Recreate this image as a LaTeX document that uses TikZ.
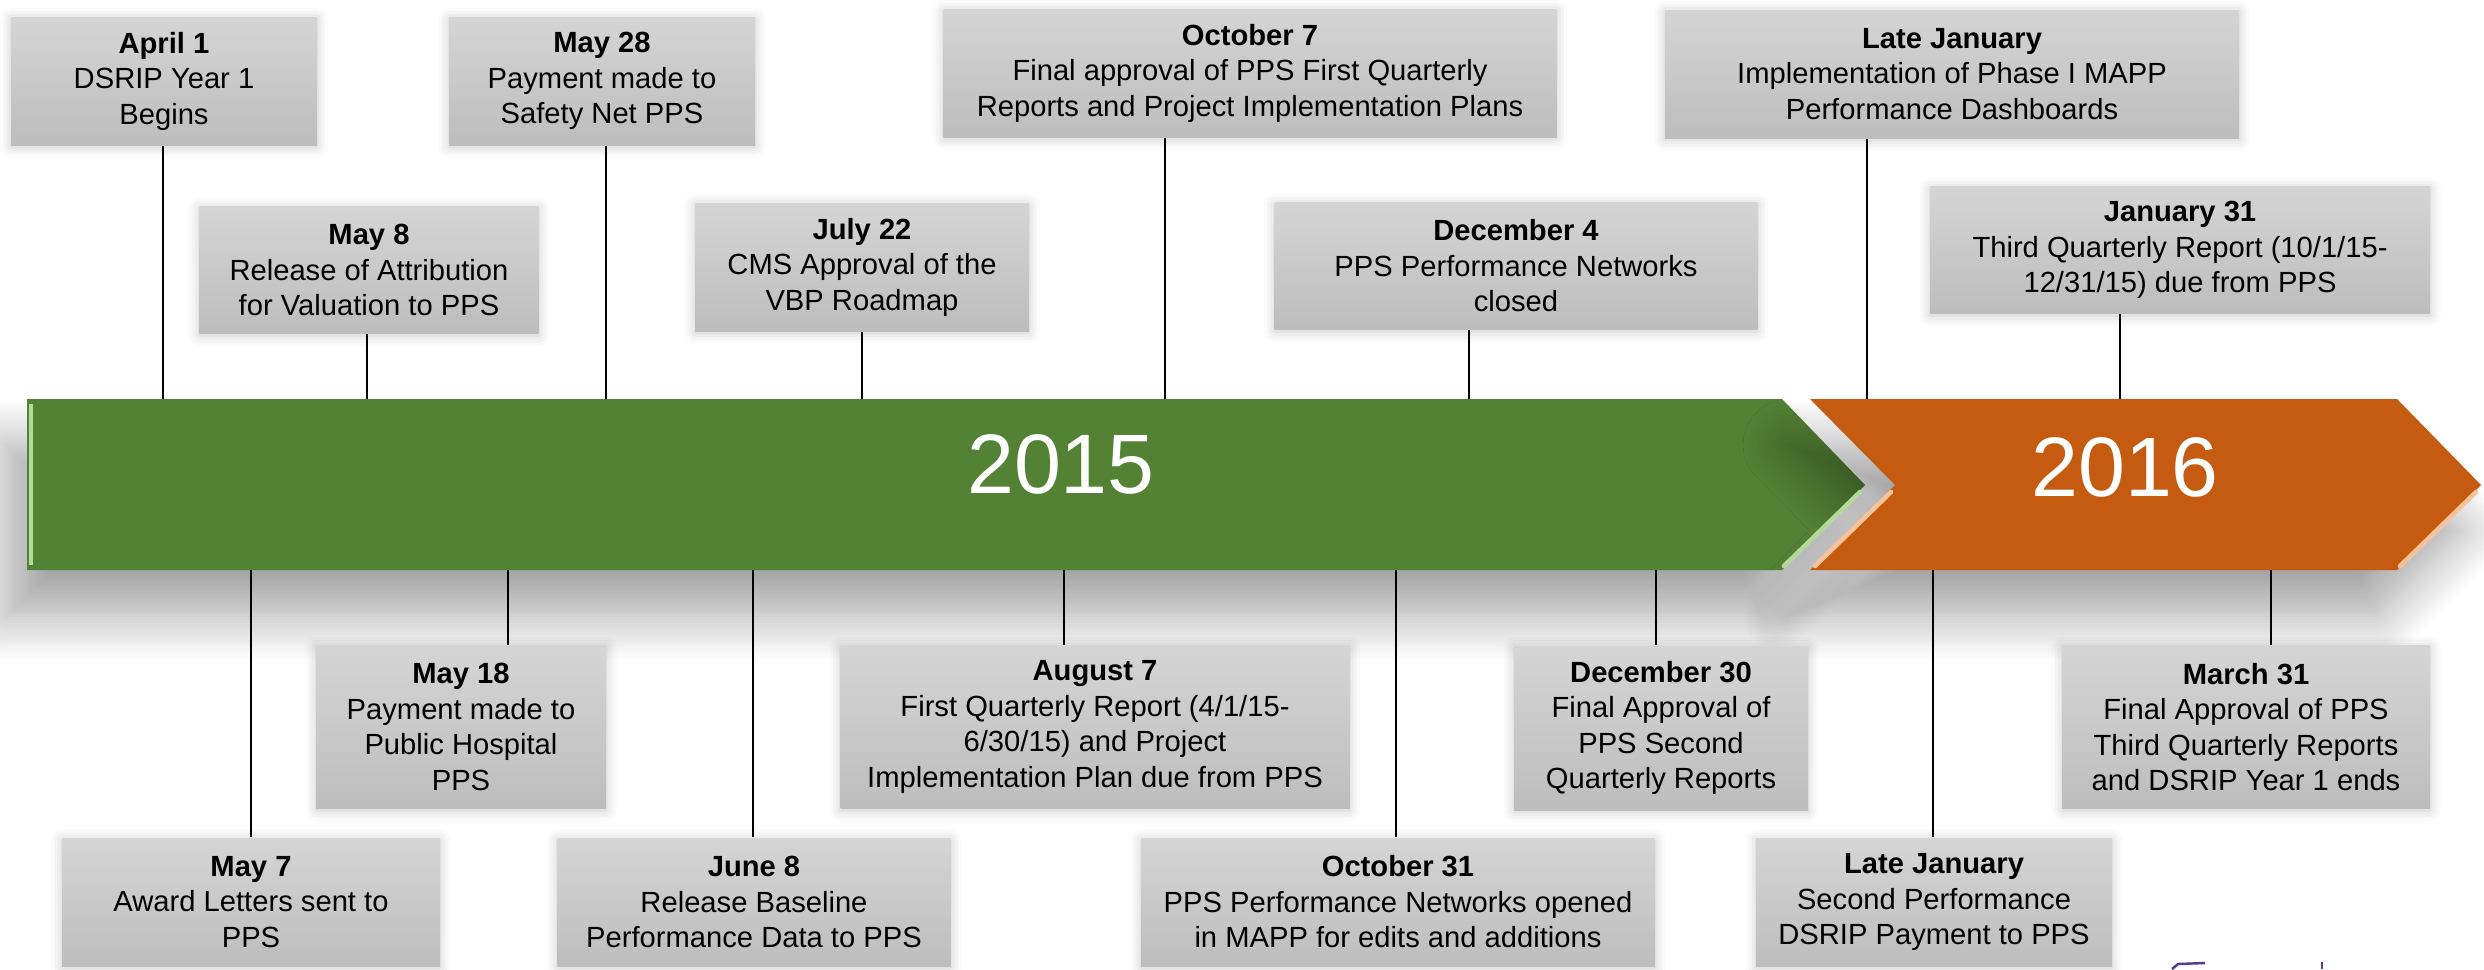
\documentclass[tikz,border=0pt]{standalone}
\usepackage{fontspec}
\setmainfont{Liberation Sans}
\usetikzlibrary{shadows.blur}
\definecolor{grn}{HTML}{548235}
\definecolor{grnhi}{HTML}{B5D99C}
\definecolor{org}{HTML}{C55A11}
\definecolor{orghi}{HTML}{F8C39B}
\definecolor{boxtop}{HTML}{D5D5D5}
\definecolor{boxbot}{HTML}{BDBDBD}
\definecolor{logopurple}{HTML}{5B3A8E}
\tikzset{
  evbox/.style={rectangle, inner sep=0pt, top color=boxtop, bottom color=boxbot,
    align=center, text=black, font=\fontsize{8.3}{10.1}\selectfont,
    blur shadow={shadow xshift=0pt, shadow yshift=-0.5pt, shadow blur radius=3pt, shadow opacity=22}},
  conn/.style={draw=black, line width=0.4pt},
  yeartext/.style={text=white, font=\fontsize{24}{28}\selectfont, inner sep=0pt},
  arrshadow/.style={blur shadow={shadow xshift=-6pt, shadow yshift=-13pt, shadow blur radius=13pt, shadow blur steps=16, shadow opacity=36}}
}
\begin{document}
\begin{tikzpicture}[x=0.1mm,y=-0.1mm]
\useasboundingbox (0,0) rectangle (2484,969);

% ---- year arrows ----
\fill[grn, arrshadow] (27,399) -- (1782,399) -- (1865,485) -- (1782,570) -- (27,570) -- cycle;
\fill[org, arrshadow] (1810,399) -- (2397,399) -- (2481,485) -- (2397,570) -- (1810,570) -- (1895,485) -- cycle;
% bevel highlights
\draw[grnhi, line width=1.1pt] (31,404) -- (31,565);
\draw[grnhi, line width=1.3pt, line cap=round] (1860,492) -- (1784,566);
\draw[orghi, line width=1.3pt, line cap=round] (1891,492) -- (1815,566);
\draw[orghi, line width=1.3pt, line cap=round] (2476,492) -- (2400,566);

\node[yeartext] (y2015) at (1061,464) {2015};
\node[yeartext] (y2016) at (2125,467) {2016};

% ---- attachment points on the arrows ----
\coordinate (t1) at (163,399);
\coordinate (t2) at (367,399);
\coordinate (t3) at (606,399);
\coordinate (t4) at (862,399);
\coordinate (t5) at (1165,399);
\coordinate (t6) at (1469,399);
\coordinate (t7) at (1867,399);
\coordinate (t8) at (2120,399);
\coordinate (b1) at (251,570);
\coordinate (b2) at (508,570);
\coordinate (b3) at (753,570);
\coordinate (b4) at (1064,570);
\coordinate (b5) at (1396,570);
\coordinate (b6) at (1656,570);
\coordinate (b7) at (1933,570);
\coordinate (b8) at (2271,570);

% ---- top boxes ----
\node[evbox, minimum width=30.6mm, minimum height=12.8mm] (apr1) at (164,81)
  {\textbf{April 1}\\DSRIP Year 1\\Begins};
\node[evbox, minimum width=30.6mm, minimum height=12.8mm] (may28) at (602,81)
  {\textbf{May 28}\\Payment made to\\Safety Net PPS};
\node[evbox, minimum width=61.3mm, minimum height=12.8mm] (oct7) at (1250,73)
  {\textbf{October 7}\\Final approval of PPS First Quarterly\\Reports and Project Implementation Plans};
\node[evbox, minimum width=57.4mm, minimum height=12.8mm] (latejan1) at (1952,74)
  {\textbf{Late January}\\Implementation of Phase I MAPP\\Performance Dashboards};
\node[evbox, minimum width=33.9mm, minimum height=12.7mm] (may8) at (369,270)
  {\textbf{May 8}\\Release of Attribution\\for Valuation to PPS};
\node[evbox, minimum width=33.4mm, minimum height=12.8mm] (jul22) at (862,267)
  {\textbf{July 22}\\CMS Approval of the\\VBP Roadmap};
\node[evbox, minimum width=48.3mm, minimum height=12.7mm] (dec4) at (1516,266)
  {\textbf{December 4}\\PPS Performance Networks\\closed};
\node[evbox, minimum width=50.0mm, minimum height=12.7mm] (jan31) at (2180,250)
  {\textbf{January 31}\\Third Quarterly Report (10/1/15-\\12/31/15) due from PPS};

% ---- bottom boxes ----
\node[evbox, minimum width=29.0mm, minimum height=16.3mm] (may18) at (461,727)
  {\textbf{May 18}\\Payment made to\\Public Hospital\\PPS};
\node[evbox, minimum width=50.9mm, minimum height=16.3mm] (aug7) at (1095,727)
  {\textbf{August 7}\\First Quarterly Report (4/1/15-\\6/30/15) and Project\\Implementation Plan due from PPS};
\node[evbox, minimum width=29.4mm, minimum height=16.4mm] (dec30) at (1661,728)
  {\textbf{December 30}\\Final Approval of\\PPS Second\\Quarterly Reports};
\node[evbox, minimum width=36.8mm, minimum height=16.3mm] (mar31) at (2246,727)
  {\textbf{March 31}\\Final Approval of PPS\\Third Quarterly Reports\\and DSRIP Year 1 ends};
\node[evbox, minimum width=37.8mm, minimum height=12.8mm] (may7) at (251,902)
  {\textbf{May 7}\\Award Letters sent to\\PPS};
\node[evbox, minimum width=39.3mm, minimum height=12.8mm] (jun8) at (754,902)
  {\textbf{June 8}\\Release Baseline\\Performance Data to PPS};
\node[evbox, minimum width=51.4mm, minimum height=12.8mm] (oct31) at (1398,902)
  {\textbf{October 31}\\PPS Performance Networks opened\\in MAPP for edits and additions};
\node[evbox, minimum width=35.6mm, minimum height=12.8mm] (latejan2) at (1934,902)
  {\textbf{Late January}\\Second Performance\\DSRIP Payment to PPS};

% ---- connectors ----
\draw[conn] (apr1.south -| t1) -- (t1);
\draw[conn] (may8.south -| t2) -- (t2);
\draw[conn] (may28.south -| t3) -- (t3);
\draw[conn] (jul22.south -| t4) -- (t4);
\draw[conn] (oct7.south -| t5) -- (t5);
\draw[conn] (dec4.south -| t6) -- (t6);
\draw[conn] (latejan1.south -| t7) -- (t7);
\draw[conn] (jan31.south -| t8) -- (t8);
\draw[conn] (b1) -- (may7.north -| b1);
\draw[conn] (b2) -- (may18.north -| b2);
\draw[conn] (b3) -- (jun8.north -| b3);
\draw[conn] (b4) -- (aug7.north -| b4);
\draw[conn] (b5) -- (oct31.north -| b5);
\draw[conn] (b6) -- (dec30.north -| b6);
\draw[conn] (b7) -- (latejan2.north -| b7);
\draw[conn] (b8) -- (mar31.north -| b8);

% ---- logo fragment at the lower right ----
\draw[logopurple, line width=0.7pt] (2172,969) -- (2178,964) -- (2205,963);
\draw[logopurple, line width=0.7pt] (2322,962) -- (2322,969);
\end{tikzpicture}
\end{document}
